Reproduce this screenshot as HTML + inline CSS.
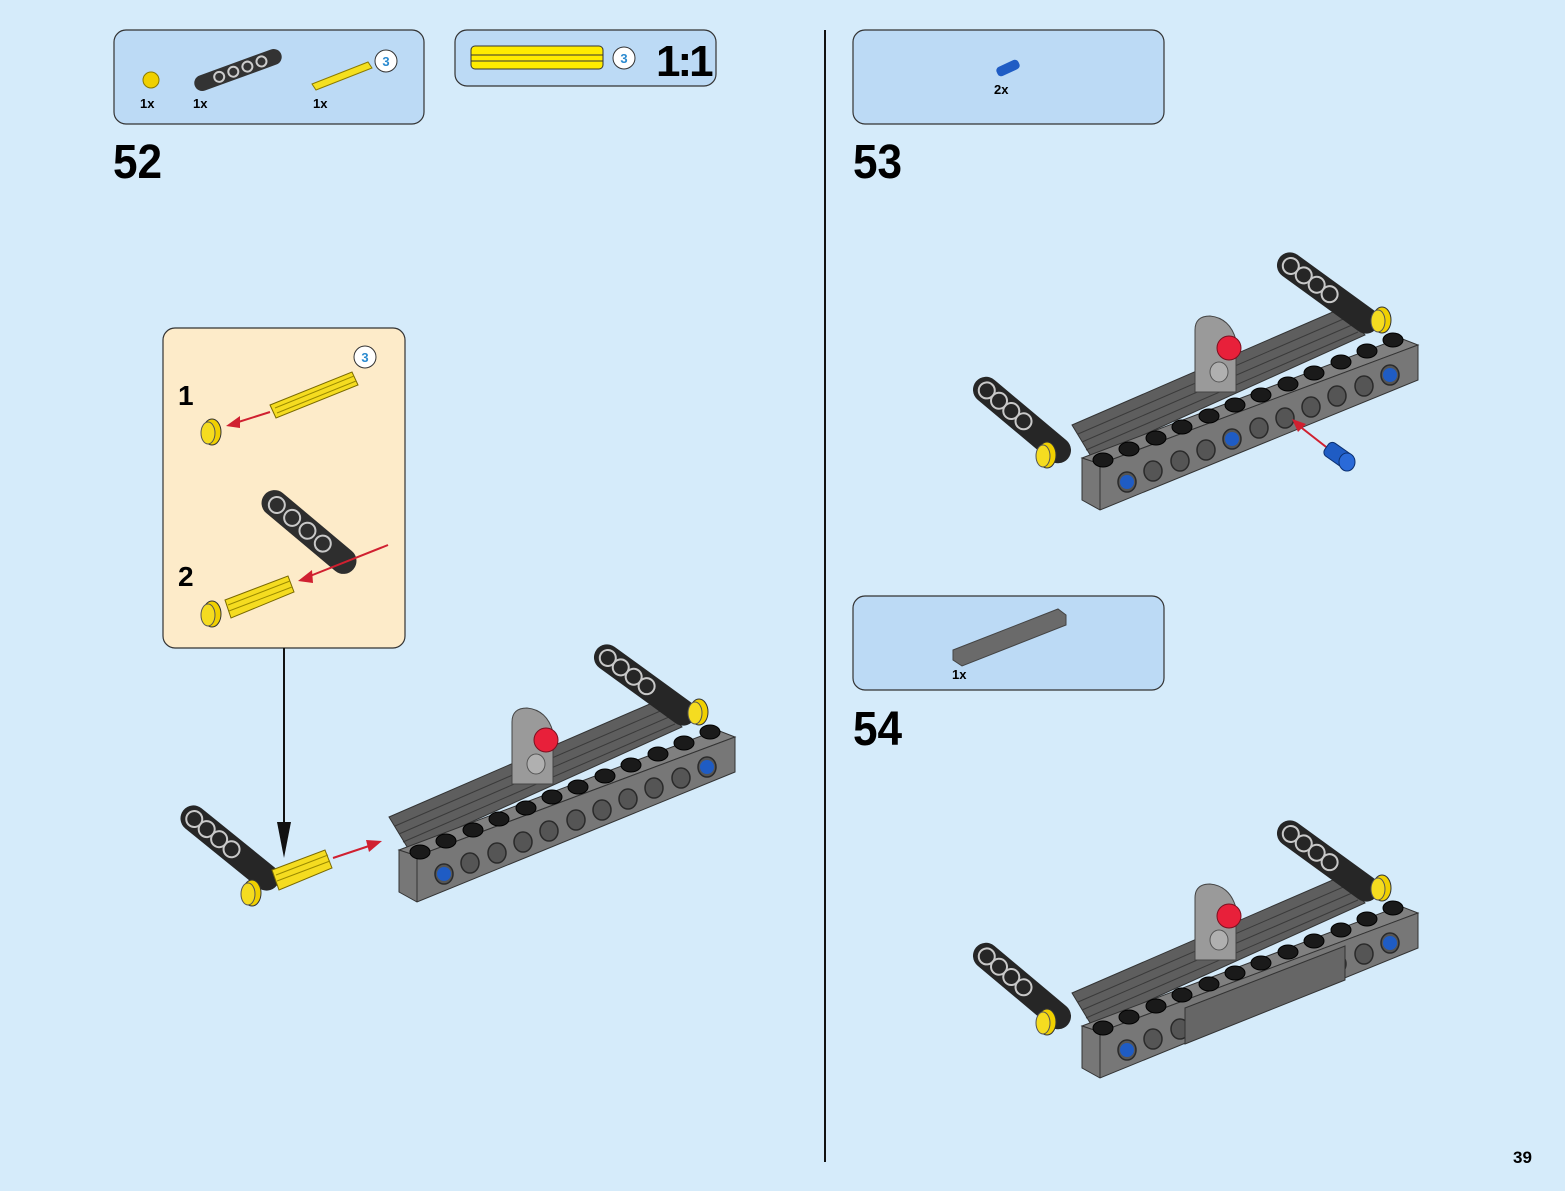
<!DOCTYPE html>
<html><head><meta charset="utf-8"><style>
html,body{margin:0;padding:0;background:#d5ebfa;}
svg{display:block;}
text{font-family:"Liberation Sans",sans-serif;font-weight:bold;}
</style></head><body>
<svg width="1565" height="1191" viewBox="0 0 1565 1191" xmlns="http://www.w3.org/2000/svg">
<defs>
<g id="arm">
 <rect x="-60" y="-13" width="120" height="26" rx="13" fill="#262626"/>
 <ellipse cx="-46" cy="0" rx="8" ry="8" fill="none" stroke="#c8c8c8" stroke-width="2"/>
 <ellipse cx="-30" cy="0" rx="8" ry="8" fill="none" stroke="#c8c8c8" stroke-width="2"/>
 <ellipse cx="-14" cy="0" rx="8" ry="8" fill="none" stroke="#c8c8c8" stroke-width="2"/>
 <ellipse cx="2" cy="0" rx="8" ry="8" fill="none" stroke="#c8c8c8" stroke-width="2"/>
</g>
<g id="bush">
 <ellipse cx="0" cy="0" rx="9" ry="13" fill="#f0d000" stroke="#333" stroke-width="1"/>
 <ellipse cx="-4" cy="1" rx="7" ry="11" fill="#f5dc20" stroke="#555" stroke-width="1"/>
</g>
<g id="asm">
 <polygon points="1072,425 1342,308 1365,335 1092,458" fill="#5e5e5e" stroke="#333" stroke-width="1"/>
 <line x1="1078" y1="434" x2="1348" y2="317" stroke="#3a3a3a"/>
 <line x1="1082" y1="442" x2="1352" y2="325" stroke="#3a3a3a"/>
 <line x1="1086" y1="450" x2="1358" y2="332" stroke="#3a3a3a"/>
 <g transform="translate(1328,293) rotate(36)"><use href="#arm"/></g>
 <g transform="translate(1382,320)"><use href="#bush"/></g>
 <path d="M1195,392 L1195,330 Q1195,316 1210,316 Q1230,318 1236,340 L1236,392 Z" fill="#9a9a9a" stroke="#444"/>
 <circle cx="1229" cy="348" r="12" fill="#e8203a" stroke="#7a1020"/>
 <ellipse cx="1219" cy="372" rx="9" ry="10" fill="#b0b0b0" stroke="#555"/>
 <polygon points="1082,458 1400,338 1418,345 1100,464" fill="#808080" stroke="#333"/>
 <polygon points="1082,458 1100,464 1418,345 1418,380 1100,510 1082,500" fill="#777" stroke="#333"/>
 <line x1="1100" y1="464" x2="1100" y2="510" stroke="#333"/>
 <g fill="#555" stroke="#2a2a2a" stroke-width="1.5">
  <ellipse cx="1127" cy="482" rx="9" ry="10"/><ellipse cx="1153" cy="471" rx="9" ry="10"/>
  <ellipse cx="1180" cy="461" rx="9" ry="10"/><ellipse cx="1206" cy="450" rx="9" ry="10"/>
  <ellipse cx="1232" cy="439" rx="9" ry="10"/><ellipse cx="1259" cy="428" rx="9" ry="10"/>
  <ellipse cx="1285" cy="418" rx="9" ry="10"/><ellipse cx="1311" cy="407" rx="9" ry="10"/>
  <ellipse cx="1337" cy="396" rx="9" ry="10"/><ellipse cx="1364" cy="386" rx="9" ry="10"/>
  <ellipse cx="1390" cy="375" rx="9" ry="10"/>
 </g>
 <circle cx="1127" cy="482" r="7" fill="#1f5cc4"/>
 <circle cx="1390" cy="375" r="7" fill="#1f5cc4"/>
 <g fill="#1a1a1a" stroke="#000">
  <ellipse cx="1103" cy="460" rx="10" ry="7"/><ellipse cx="1129" cy="449" rx="10" ry="7"/>
  <ellipse cx="1156" cy="438" rx="10" ry="7"/><ellipse cx="1182" cy="427" rx="10" ry="7"/>
  <ellipse cx="1209" cy="416" rx="10" ry="7"/><ellipse cx="1235" cy="405" rx="10" ry="7"/>
  <ellipse cx="1261" cy="395" rx="10" ry="7"/><ellipse cx="1288" cy="384" rx="10" ry="7"/>
  <ellipse cx="1314" cy="373" rx="10" ry="7"/><ellipse cx="1341" cy="362" rx="10" ry="7"/>
  <ellipse cx="1367" cy="351" rx="10" ry="7"/><ellipse cx="1393" cy="340" rx="10" ry="7"/>
 </g>
</g>
</defs>

<line x1="825" y1="30" x2="825" y2="1162" stroke="#111" stroke-width="2"/>

<rect x="114" y="30" width="310" height="94" rx="12" fill="#bcdaf5" stroke="#333" stroke-width="1.2"/>
<circle cx="151" cy="80" r="8" fill="#f0d000" stroke="#8a7a00"/>
<text x="140" y="108" font-size="13">1x</text>
<g transform="translate(238,70) rotate(-20)"><rect x="-46" y="-8" width="92" height="16" rx="8" fill="#333"/>
<g fill="none" stroke="#ccc" stroke-width="2"><circle cx="-20" cy="0" r="5"/><circle cx="-5" cy="0" r="5"/><circle cx="10" cy="0" r="5"/><circle cx="25" cy="0" r="5"/></g></g>
<text x="193" y="108" font-size="13">1x</text>
<polygon points="312,84 368,62 372,68 316,90" fill="#f5e020" stroke="#8a7a00"/>
<text x="313" y="108" font-size="13">1x</text>
<circle cx="386" cy="61" r="11" fill="#fff" stroke="#333"/>
<text x="386" y="66" font-size="13" fill="#2a8ad0" text-anchor="middle" font-weight="normal">3</text>

<rect x="455" y="30" width="261" height="56" rx="12" fill="#bcdaf5" stroke="#333" stroke-width="1.2"/>
<rect x="471" y="46" width="132" height="23" rx="4" fill="#ffec00" stroke="#333"/>
<line x1="471" y1="55" x2="603" y2="55" stroke="#333"/><line x1="471" y1="61" x2="603" y2="61" stroke="#333"/>
<circle cx="624" cy="58" r="11" fill="#fff" stroke="#333"/>
<text x="624" y="63" font-size="13" fill="#2a8ad0" text-anchor="middle" font-weight="normal">3</text>
<text x="656" y="76" font-size="44" letter-spacing="-3">1:1</text>

<text x="113" y="178" font-size="48" transform="translate(113,0) scale(0.92,1) translate(-113,0)">52</text>

<rect x="163" y="328" width="242" height="320" rx="12" fill="#fdebc9" stroke="#333" stroke-width="1.2"/>
<circle cx="365" cy="357" r="11" fill="#fff" stroke="#333"/>
<text x="365" y="362" font-size="13" fill="#2a8ad0" text-anchor="middle" font-weight="normal">3</text>
<text x="178" y="405" font-size="28">1</text>
<text x="178" y="586" font-size="28">2</text>
<polygon points="270,405 352,372 358,385 276,418" fill="#f5dc20" stroke="#7a6a00"/>
<line x1="275" y1="408" x2="354" y2="376" stroke="#9a8a00"/><line x1="277" y1="413" x2="356" y2="381" stroke="#9a8a00"/>
<line x1="270" y1="412" x2="232" y2="424" stroke="#d02030" stroke-width="2"/>
<polygon points="226,426 240,416 240,428" fill="#d02030"/>
<g transform="translate(212,432)"><use href="#bush"/></g>
<g transform="translate(309,532) rotate(40)"><rect x="-58" y="-13" width="116" height="26" rx="13" fill="#2e2e2e"/>
<g fill="none" stroke="#c8c8c8" stroke-width="2"><circle cx="-42" cy="0" r="8"/><circle cx="-22" cy="0" r="8"/><circle cx="-2" cy="0" r="8"/><circle cx="18" cy="0" r="8"/></g></g>
<line x1="388" y1="545" x2="305" y2="578" stroke="#d02030" stroke-width="2"/>
<polygon points="298,581 312,570 313,583" fill="#d02030"/>
<polygon points="225,600 288,576 294,592 231,618" fill="#f5dc20" stroke="#7a6a00"/>
<line x1="228" y1="605" x2="290" y2="581" stroke="#9a8a00"/><line x1="229" y1="611" x2="292" y2="587" stroke="#9a8a00"/>
<g transform="translate(212,614)"><use href="#bush"/></g>

<line x1="284" y1="648" x2="284" y2="830" stroke="#111" stroke-width="2"/>
<polygon points="277,822 291,822 284,858" fill="#111"/>

<g transform="translate(-683,392)"><use href="#asm"/></g>
<g transform="translate(230,848) rotate(39)"><use href="#arm"/></g>
<polygon points="272,870 325,850 332,868 279,890" fill="#f5dc20" stroke="#7a6a00"/>
<line x1="276" y1="875" x2="328" y2="855" stroke="#9a8a00"/><line x1="277" y1="881" x2="330" y2="861" stroke="#9a8a00"/>
<g transform="translate(252,893)"><use href="#bush"/></g>
<line x1="333" y1="858" x2="372" y2="845" stroke="#d02030" stroke-width="2"/>
<polygon points="382,841 366,840 369,852" fill="#d02030"/>

<rect x="853" y="30" width="311" height="94" rx="12" fill="#bcdaf5" stroke="#333" stroke-width="1.2"/>
<g transform="translate(1008,68) rotate(-25)"><rect x="-12" y="-5" width="24" height="10" rx="4" fill="#1f5cc4"/></g>
<text x="994" y="94" font-size="13">2x</text>
<text x="853" y="178" font-size="48" transform="translate(853,0) scale(0.92,1) translate(-853,0)">53</text>
<use href="#asm"/>
<g transform="translate(1022,420) rotate(40)"><use href="#arm"/></g>
<g transform="translate(1047,455)"><use href="#bush"/></g>
<circle cx="1232" cy="439" r="7" fill="#1f5cc4"/>
<line x1="1330" y1="450" x2="1298" y2="425" stroke="#d02030" stroke-width="2"/>
<polygon points="1292,419 1306,424 1298,432" fill="#d02030"/>
<g transform="translate(1338,455) rotate(35)"><rect x="-14" y="-8" width="28" height="16" rx="5" fill="#1f5cc4" stroke="#0c3070"/></g>
<ellipse cx="1347" cy="462" rx="8" ry="9" fill="#2a6ad8" stroke="#0c3070"/>

<rect x="853" y="596" width="311" height="94" rx="12" fill="#bcdaf5" stroke="#333" stroke-width="1.2"/>
<polygon points="953,650 1058,609 1066,615 1066,625 962,666 953,660" fill="#6a6a6a" stroke="#444"/>
<text x="952" y="679" font-size="13">1x</text>
<text x="853" y="745" font-size="48" transform="translate(853,0) scale(0.92,1) translate(-853,0)">54</text>
<g transform="translate(0,568)"><use href="#asm"/></g>
<g transform="translate(1022,986) rotate(40)"><use href="#arm"/></g>
<g transform="translate(1047,1022)"><use href="#bush"/></g>
<polygon points="1185,1008 1345,946 1345,980 1185,1044" fill="#666" stroke="#333"/>

<text x="1513" y="1163" font-size="17">39</text>
</svg>
</body></html>
